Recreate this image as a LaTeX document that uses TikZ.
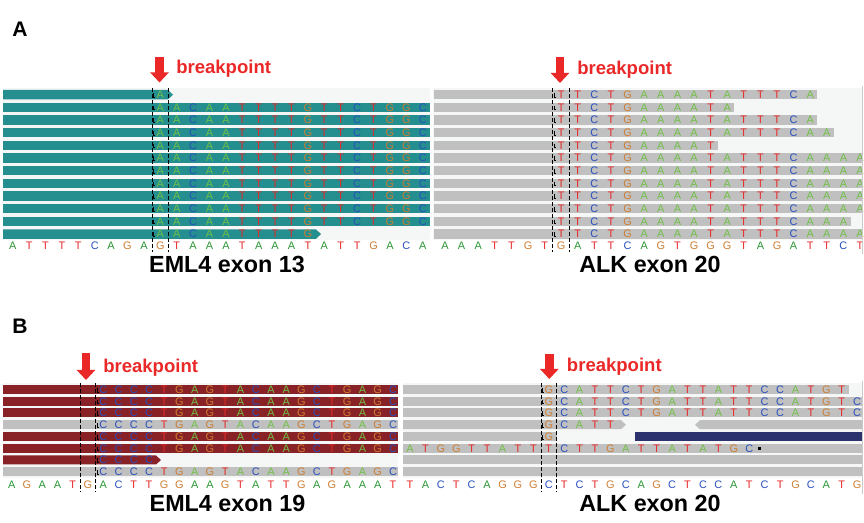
\documentclass[tikz,border=0pt]{standalone}
\usepackage{fontspec}
\setmainfont{Liberation Sans}
\setsansfont{Liberation Sans}
\usetikzlibrary{arrows.meta}

\definecolor{readteal}{RGB}{37,142,142}
\definecolor{readred}{RGB}{136,34,38}
\definecolor{readgrey}{RGB}{192,192,192}
\definecolor{readnavy}{RGB}{44,50,110}
\definecolor{panelbg}{RGB}{245,247,247}
\definecolor{bpred}{RGB}{235,40,40}
\definecolor{ntA}{RGB}{112,192,70}
\definecolor{ntAref}{RGB}{40,150,50}
\definecolor{ntT}{RGB}{230,40,40}
\definecolor{ntC}{RGB}{40,80,190}
\definecolor{ntG}{RGB}{205,125,50}

% one row of bases, #1 name, #2 style prefix, #3 y, #4 first index, #5 last index, #6 bases
\newcommand{\putbases}[6]{%
  \foreach \nt [count=\i from #4] in {#6} {%
    \ifnum\i>#5\relax\else
      \node[#2\nt] (#1-\i) at ({\bxo+\i*\bdx},#3) {\nt};
    \fi}}
% read with a pointed right end / left end
\newcommand{\readtip}[5]{\fill[#1] (#2,#4) -- (#3-5,#4) -- (#3,#4+#5/2) -- (#3-5,#4+#5) -- (#2,#4+#5) -- cycle;}
\newcommand{\readtipL}[5]{\fill[#1] (#2,#4+#5/2) -- (#2+5,#4) -- (#3,#4) -- (#3,#4+#5) -- (#2+5,#4+#5) -- cycle;}
% clip marks beside the left breakpoint line, #1 x, #2 first top, #3 pitch, #4 rows
\newcommand{\clipmarks}[4]{%
  \foreach \k in {1,...,#4} {\draw[black, line width=0.7pt] ({#1+1.5},{#2+#3*(\k-1)+3}) -- ++(0,4) -- ++(1.5,0);}}

\begin{document}
\begin{tikzpicture}[x=0.75pt, y=-0.75pt,
  base/.style={font=\fontsize{8.2}{8.2}\selectfont, inner sep=0pt},
  bA/.style={base, text=ntA}, bT/.style={base, text=ntT}, bC/.style={base, text=ntC}, bG/.style={base, text=ntG},
  rA/.style={base, text=ntAref}, rT/.style={base, text=ntT}, rC/.style={base, text=ntC}, rG/.style={base, text=ntG},
  panel/.style={font=\bfseries\fontsize{15.8}{16}\selectfont, anchor=base west, inner sep=0pt},
  bplabel/.style={font=\bfseries\fontsize{13.9}{14}\selectfont, text=bpred, anchor=base west, inner sep=0pt},
  genelabel/.style={font=\bfseries\fontsize{17.5}{18}\selectfont, anchor=base, inner sep=0pt},
  bparrow/.style={draw=bpred, line width=6.5pt, -{Triangle[width=13.5pt, length=7.5pt]}},
  bpline/.style={black, line width=0.8pt, dash pattern=on 3pt off 1.5pt},
  edge/.style={draw=black!20, line width=0.6pt}]
\useasboundingbox (0,0) rectangle (864,523);

% ---- panel A, EML4 exon 13
\node[panel] (labA) at (12,37) {A};
\fill[panelbg] (3,88) rectangle (430,240);
\def\bxo{12.7}\def\bdx{16.4}
\readtip{readteal}{3}{173}{90}{9.4}
\putbases{rA1}{b}{94.7}{9}{9}{A}
\foreach \k in {2,...,11} {
  \pgfmathsetmacro\ry{90+12.67*(\k-1)}
  \fill[readteal] (3,\ry) rectangle (430,\ry+9.4);
  \putbases{rA\k}{b}{\ry+4.7}{9}{25}{A,A,C,A,A,T,T,T,T,G,T,T,C,T,G,G,C}
}
\readtip{readteal}{3}{321}{229.4}{9.4}
\putbases{rA12}{b}{234.1}{9}{18}{A,A,C,A,A,T,T,T,T,G}
\putbases{refA}{r}{246}{0}{25}{A,T,T,T,T,C,A,G,A,G,T,A,A,A,T,A,A,A,T,A,T,T,G,A,C,A}
\coordinate (dA1t) at (152.1,88); \coordinate (dA1b) at (152.1,252);
\coordinate (dA2t) at (168.5,88); \coordinate (dA2b) at (168.5,252);
\draw[bpline] (dA1t) -- (dA1b);
\draw[bpline] (dA2t) -- (dA2b);
\clipmarks{152.1}{90}{12.67}{12}
\coordinate (bpA1s) at (159.5,57); \coordinate (bpA1e) at (159.5,82.5);
\draw[bparrow] (bpA1s) -- (bpA1e);
\node[bplabel] (bpA1) at (176,74) {breakpoint};
\node[genelabel] (geneA1) at (227,273) {EML4 exon 13};

% ---- panel A, ALK exon 20
\fill[panelbg] (433,88) rectangle (862,240);
\def\bxo{445}\def\bdx{16.6}
\foreach \k/\e/\n in {1/816.7/22, 2/734/17, 3/817/22, 4/834/23, 5/718/16, 6/862/25,
    7/862/25, 8/862/25, 9/862/25, 10/862/25, 11/851/24, 12/862/25} {
  \pgfmathsetmacro\ry{90+12.67*(\k-1)}
  \fill[readgrey] (434,\ry) rectangle (\e,\ry+9.4);
  \putbases{rK\k}{b}{\ry+4.7}{7}{\n}{T,T,C,T,G,A,A,A,A,T,A,T,T,T,C,A,A,A,A}
}
\putbases{refK}{r}{246}{0}{25}{A,A,A,T,T,G,T,G,A,T,T,C,A,G,T,G,G,G,T,A,G,A,T,T,C,T}
\coordinate (dK1t) at (552.6,88); \coordinate (dK1b) at (552.6,252);
\coordinate (dK2t) at (569.3,88); \coordinate (dK2b) at (569.3,252);
\draw[bpline] (dK1t) -- (dK1b);
\draw[bpline] (dK2t) -- (dK2b);
\clipmarks{552.6}{90}{12.67}{12}
\coordinate (eK1t) at (862,86); \coordinate (eK1b) at (862,254);
\draw[edge] (eK1t) -- (eK1b);
\coordinate (bpK1s) at (560,57); \coordinate (bpK1e) at (560,83);
\draw[bparrow] (bpK1s) -- (bpK1e);
\node[bplabel] (bpK1) at (577,74.3) {breakpoint};
\node[genelabel] (geneK1) at (650,273) {ALK exon 20};

% ---- panel B, EML4 exon 19
\node[panel] (labB) at (12,334) {B};
\fill[panelbg] (3,383) rectangle (398,478);
\def\bxo{11.7}\def\bdx{15.25}
\foreach \k/\c in {1/readred, 2/readred, 3/readred, 4/readgrey, 5/readred, 6/readred, 8/readgrey} {
  \pgfmathsetmacro\ry{385+11.75*(\k-1)}
  \fill[\c] (3,\ry) rectangle (398,\ry+9);
  \putbases{rE\k}{b}{\ry+4.5}{6}{25}{C,C,C,C,T,G,A,G,T,A,C,A,A,G,C,T,G,A,G,C}
}
\readtip{readred}{3}{161}{455.5}{9}
\putbases{rE7}{b}{460}{6}{9}{C,C,C,C}
\putbases{refE}{r}{485}{0}{25}{A,G,A,A,T,G,A,C,T,T,G,G,A,A,G,T,A,T,T,G,A,G,A,A,A,T}
\coordinate (dE1t) at (80.3,383); \coordinate (dE1b) at (80.3,492);
\coordinate (dE2t) at (95.5,383); \coordinate (dE2b) at (95.5,492);
\draw[bpline] (dE1t) -- (dE1b);
\draw[bpline] (dE2t) -- (dE2b);
\clipmarks{95.5}{385}{11.75}{8}
\coordinate (bpE1s) at (86,353); \coordinate (bpE1e) at (86,380);
\draw[bparrow] (bpE1s) -- (bpE1e);
\node[bplabel] (bpE1) at (103,372.7) {breakpoint};
\node[genelabel] (geneE1) at (227.5,511.7) {EML4 exon 19};

% ---- panel B, ALK exon 20
\fill[panelbg] (403,383) rectangle (862,478);
\def\bxo{410}\def\bdx{15.42}
\fill[readgrey] (403,385) rectangle (849,394);
\putbases{rL1}{b}{389.5}{9}{28}{G,C,A,T,T,C,T,G,A,T,T,A,T,T,C,C,A,T,G,T,C}
\foreach \k in {2,3} {
  \pgfmathsetmacro\ry{385+11.75*(\k-1)}
  \fill[readgrey] (403,\ry) rectangle (862,\ry+9);
  \putbases{rL\k}{b}{\ry+4.5}{9}{29}{G,C,A,T,T,C,T,G,A,T,T,A,T,T,C,C,A,T,G,T,C}
}
\readtip{readgrey}{403}{626}{420.25}{9}
\readtipL{readgrey}{695}{862}{420.25}{9}
\putbases{rL4}{b}{424.75}{9}{13}{G,C,A,T,T}
\fill[readgrey] (403,432) rectangle (557,441);
\fill[readnavy] (635,432) rectangle (862,441);
\putbases{rL5}{b}{436.5}{9}{9}{G}
\fill[readgrey] (403,443.75) rectangle (862,452.75);
\putbases{rL6}{b}{448.25}{0}{22}{A,T,G,G,T,T,A,T,T,T,C,T,T,G,A,T,T,A,T,A,T,G,C}
\fill[black] (758,447.3) rectangle (760.5,449.8);
\fill[readgrey] (403,455.5) rectangle (862,464.5);
\fill[readgrey] (403,467.25) rectangle (862,476.25);
\putbases{refL}{r}{485}{0}{29}{T,A,C,T,C,A,G,G,G,C,T,C,T,G,C,A,G,C,T,C,C,A,T,C,T,G,C,A,T,G}
\coordinate (dL1t) at (541.1,383); \coordinate (dL1b) at (541.1,492);
\coordinate (dL2t) at (556.5,383); \coordinate (dL2b) at (556.5,492);
\draw[bpline] (dL1t) -- (dL1b);
\draw[bpline] (dL2t) -- (dL2b);
\clipmarks{541.1}{385}{11.75}{5}
\coordinate (eL1t) at (862,381); \coordinate (eL1b) at (862,494);
\draw[edge] (eL1t) -- (eL1b);
\coordinate (bpL1s) at (549.3,354); \coordinate (bpL1e) at (549.3,379);
\draw[bparrow] (bpL1s) -- (bpL1e);
\node[bplabel] (bpL1) at (566.7,371.7) {breakpoint};
\node[genelabel] (geneL1) at (650,511.7) {ALK exon 20};
\end{tikzpicture}
\end{document}
